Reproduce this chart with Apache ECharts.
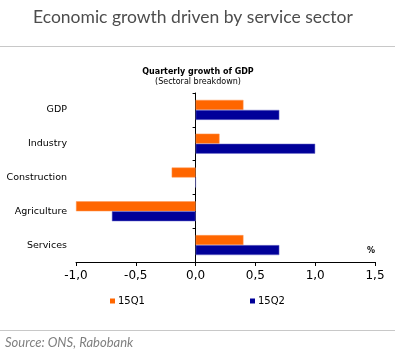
<!DOCTYPE html>
<html>
<head>
<meta charset="utf-8">
<script src="https://cdn.jsdelivr.net/npm/echarts@6/dist/echarts.min.js"></script>
<style>
  html, body { margin: 0; padding: 0; background: #fff; }
  #chart { width: 395px; height: 350px; }
</style>
</head>
<body>
<div id="chart"></div>
<script>
// --- data ---
const sectors = ['GDP', 'Industry', 'Construction', 'Agriculture', 'Services'];
const q1 = [0.4, 0.2, -0.2, -1.0, 0.4];   // 15Q1
const q2 = [0.7, 1.0, 0.0, -0.7, 0.7];    // 15Q2
const seriesNames = ['15Q1', '15Q2'];

const orange = '#ff6600';
const navy = '#000099';
const chart = echarts.init(document.getElementById('chart'));

const legendBase = {
    padding: 0, icon: 'rect', itemWidth: 5, itemHeight: 5,
    itemStyle: { borderWidth: 0 },
    textStyle: { fontFamily: 'DejaVu Sans', fontSize: 10, color: '#000', padding: [0, 0, 0, -2] }
};

chart.setOption({
    animation: false,
    title: [
        {
            text: 'Economic growth driven by service sector',
            left: 33, top: 8, padding: 0,
            textStyle: { fontFamily: 'Lato', fontSize: 17.5, fontWeight: 'normal', color: '#4d4d4d' }
        },
        {
            text: 'Quarterly growth of GDP',
            left: 198, top: 68, padding: 0, textAlign: 'center',
            textStyle: { fontFamily: 'DejaVu Sans', fontSize: 8, fontWeight: 'bold', color: '#000' }
        },
        {
            text: '(Sectoral breakdown)',
            left: 198, top: 78, padding: 0, textAlign: 'center',
            textStyle: { fontFamily: 'DejaVu Sans', fontSize: 8, fontWeight: 'normal', color: '#000' }
        },
        {
            text: 'Source: ONS, Rabobank',
            left: 5, top: 336, padding: 0,
            textStyle: { fontFamily: 'Lato', fontSize: 13, fontStyle: 'italic', fontWeight: 'normal', color: '#808080' }
        }
    ],
    graphic: [
        { type: 'line', shape: { x1: 0, y1: 46.5, x2: 395, y2: 46.5 }, style: { stroke: '#c8c8c8', lineWidth: 1 } },
        { type: 'line', shape: { x1: 0, y1: 330.5, x2: 395, y2: 330.5 }, style: { stroke: '#c8c8c8', lineWidth: 1 } },
        { type: 'text', left: 367, top: 247, style: { text: '%', fontFamily: 'DejaVu Sans', fontSize: 8, fontWeight: 'bold', fill: '#000' } }
    ],
    legend: [
        Object.assign({ data: [seriesNames[0]], left: 110, top: 296 }, legendBase),
        Object.assign({ data: [seriesNames[1]], left: 250, top: 296 }, legendBase)
    ],
    grid: { left: 76, right: 20, top: 93, bottom: 88, containLabel: false, outerBoundsMode: 'none' },
    xAxis: {
        type: 'value', min: -1, max: 1.5, interval: 0.5,
        axisLine: { show: true, lineStyle: { color: '#000', width: 1 } },
        axisTick: { show: true, length: 4, lineStyle: { color: '#000' } },
        splitLine: { show: false },
        axisLabel: {
            fontFamily: 'DejaVu Sans', fontSize: 12, color: '#000', margin: 8,
            formatter: v => v.toFixed(1).replace('.', ',')
        }
    },
    yAxis: [
        {
            // labels only, at the left of the plot
            type: 'category', data: sectors, inverse: true, position: 'left',
            axisLine: { show: false, onZero: false },
            axisTick: { show: false },
            axisLabel: { fontFamily: 'DejaVu Sans', fontSize: 9.5, color: '#000', margin: 9 }
        },
        {
            // the zero line with its ticks
            type: 'category', data: sectors, inverse: true, position: 'left',
            axisLine: { show: true, onZero: true, lineStyle: { color: '#000', width: 1 } },
            axisTick: { show: true, length: 3, lineStyle: { color: '#000' } },
            axisLabel: { show: false }
        }
    ],
    series: [
        {
            name: seriesNames[0], type: 'bar', data: q1,
            barWidth: 10, barGap: '0%',
            itemStyle: { color: orange, borderColor: '#ff9955', borderWidth: 0.5 }
        },
        {
            name: seriesNames[1], type: 'bar', data: q2,
            barWidth: 10, barGap: '0%',
            itemStyle: { color: navy, borderColor: '#7777cc', borderWidth: 0.5 }
        }
    ]
});
</script>
</body>
</html>
